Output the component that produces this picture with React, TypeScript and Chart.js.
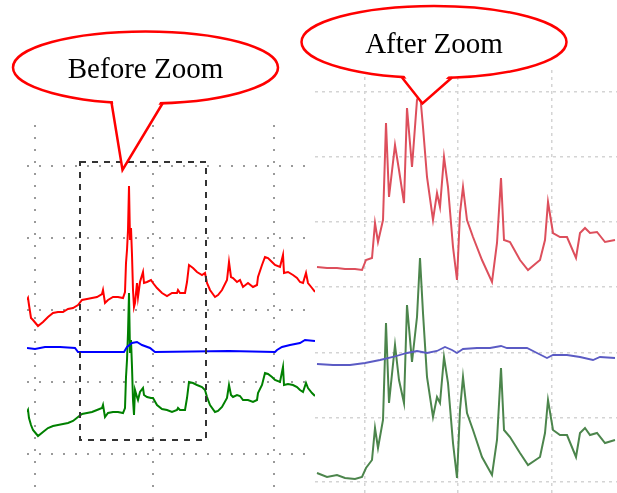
import React, { useEffect, useRef } from "react";
import { Chart, registerables } from "chart.js";
Chart.register(...registerables);

// ---------- Left panel ("Before Zoom") ----------
const leftTime = [0, 1, 2, 4, 6, 11, 16, 21, 26, 31, 36, 41, 46, 51, 55, 60, 65, 70, 75, 76, 78, 81, 86, 91, 96, 98, 99, 100, 101, 102, 103, 104, 105, 106, 107, 108, 110, 111, 113, 116, 117, 120, 124, 126, 130, 135, 140, 145, 150, 151, 153, 158, 160, 162, 166, 170, 175, 178, 180, 183, 188, 191, 195, 200, 202, 204, 206, 210, 213, 216, 221, 226, 230, 231, 235, 238, 241, 245, 248, 253, 256, 257, 261, 266, 270, 273, 276, 279, 281, 285, 288];
const leftRed = [193, 195, 188, 175, 173, 167, 171, 176, 180, 181, 181, 184, 185, 188, 193, 194, 195, 196, 199, 203, 190, 193, 196, 196, 195, 201, 230, 243, 263, 307, 253, 265, 238, 203, 186, 190, 210, 196, 211, 221, 210, 211, 213, 210, 205, 200, 197, 200, 200, 203, 200, 200, 211, 228, 225, 221, 218, 220, 210, 203, 196, 198, 203, 213, 231, 216, 215, 211, 213, 206, 210, 206, 208, 216, 228, 236, 235, 231, 228, 226, 238, 220, 221, 218, 215, 211, 210, 220, 210, 205, 201];
const leftGreen = [81, 83, 75, 68, 63, 57, 61, 65, 67, 68, 69, 70, 72, 76, 79, 80, 81, 83, 85, 88, 76, 80, 81, 81, 80, 85, 116, 133, 160, 200, 140, 153, 126, 93, 78, 103, 96, 93, 101, 105, 98, 96, 95, 95, 88, 84, 83, 81, 83, 85, 83, 83, 95, 111, 110, 108, 106, 103, 96, 88, 81, 82, 86, 95, 108, 98, 96, 98, 97, 93, 93, 91, 93, 100, 108, 120, 119, 116, 113, 111, 126, 108, 109, 108, 106, 103, 101, 110, 105, 100, 97];
const leftBlueTime = [0, 8, 18, 33, 48, 51, 97, 100, 105, 110, 115, 123, 128, 202, 248, 250, 255, 263, 273, 278, 288];
const leftBlue = [145, 144, 146, 146, 145, 141, 141, 146, 150, 151, 148, 145, 141, 142, 141, 143, 146, 148, 150, 153, 152];
const leftXGrid = [8, 126, 247];
const leftYGrid = [39, 111, 183, 255, 327];
const zoomTimeRange = [53, 179];
const zoomValueRange = [53, 331];

// ---------- Right panel ("After Zoom") ----------
const rightTime = [2, 12, 22, 30, 40, 47, 51, 57, 60, 63, 68, 71, 74, 80, 84, 89, 92, 97, 102, 105, 108, 112, 118, 122, 125, 129, 133, 138, 142, 145, 148, 152, 158, 167, 177, 182, 186, 189, 195, 205, 213, 225, 230, 233, 238, 245, 252, 261, 265, 270, 275, 282, 290, 300];
const rightRed = [226, 225, 225, 224, 224, 223, 233, 235, 270, 251, 273, 370, 296, 348, 323, 290, 385, 326, 393, 400, 366, 316, 273, 300, 286, 336, 306, 246, 213, 280, 306, 273, 256, 233, 211, 250, 315, 253, 251, 233, 223, 233, 253, 291, 260, 256, 256, 235, 260, 265, 260, 261, 251, 253];
const rightGreen = [20, 16, 18, 15, 14, 16, 25, 33, 65, 45, 73, 170, 90, 148, 113, 90, 188, 131, 176, 235, 180, 116, 76, 96, 90, 136, 110, 50, 15, 83, 116, 80, 63, 36, 18, 53, 125, 63, 56, 40, 28, 36, 60, 93, 63, 58, 58, 36, 60, 65, 58, 60, 50, 53];
const rightBlueTime = [2, 18, 35, 50, 65, 78, 92, 102, 112, 122, 130, 137, 142, 148, 162, 175, 186, 192, 212, 222, 232, 238, 252, 265, 278, 285, 300];
const rightBlue = [129, 128, 128, 130, 133, 136, 140, 142, 140, 142, 146, 143, 140, 144, 145, 145, 147, 145, 145, 140, 135, 138, 138, 136, 133, 136, 135];
const rightXGrid = [50, 143, 237];
const rightYGrid = [11, 75, 140, 206, 271, 336, 401];

const pts = (xs: number[], ys: number[]) => xs.map((x, i) => ({ x, y: ys[i] }));

const zoomBoxPlugin = {
  id: "zoomBox",
  afterDatasetsDraw(chart: any) {
    const { ctx, scales } = chart;
    const l = scales.x.getPixelForValue(zoomTimeRange[0]);
    const r = scales.x.getPixelForValue(zoomTimeRange[1]);
    const t = scales.y.getPixelForValue(zoomValueRange[1]);
    const b = scales.y.getPixelForValue(zoomValueRange[0]);
    ctx.save();
    ctx.setLineDash([6, 6]);
    ctx.lineWidth = 2;
    ctx.strokeStyle = "#333";
    ctx.strokeRect(l, t, r - l, b - t);
    ctx.restore();
  },
};

function makeScales(xMax: number, yMax: number, xGrid: number[], yGrid: number[], gridColor: string, dash: number[], gw: number) {
  const axis = (max: number, grid: number[]) => ({
    type: "linear" as const,
    min: 0,
    max,
    display: true,
    afterBuildTicks: (a: any) => {
      a.ticks = grid.map((v) => ({ value: v }));
    },
    ticks: { display: false },
    grid: { drawTicks: false, color: gridColor, lineWidth: gw },
    border: { display: false, dash },
  });
  return { x: axis(xMax, xGrid), y: axis(yMax, yGrid) };
}

function Panel({ config, style, w, h }: { config: any; style: any; w: number; h: number }) {
  const ref = useRef<HTMLCanvasElement>(null);
  useEffect(() => {
    const chart = new Chart(ref.current!, config);
    return () => chart.destroy();
  }, []);
  return <canvas ref={ref} width={w} height={h} style={{ position: "absolute", width: w, height: h, ...style }} />;
}

const lineDs = (data: any[], color: string, width: number) => ({
  data,
  borderColor: color,
  borderWidth: width,
  pointRadius: 0,
  tension: 0,
  fill: false,
  clip: false as any,
});

const baseOpts = {
  responsive: false,
  animation: false as const,
  devicePixelRatio: 1,
  layout: { padding: 0 },
  plugins: { legend: { display: false }, tooltip: { enabled: false } },
};

const leftConfig = {
  type: "line",
  data: {
    datasets: [
      lineDs(pts(leftTime, leftRed), "#ff0000", 2),
      lineDs(pts(leftBlueTime, leftBlue), "#0000ff", 2),
      lineDs(pts(leftTime, leftGreen), "#008000", 2),
    ],
  },
  options: { ...baseOpts, scales: makeScales(288, 368, leftXGrid, leftYGrid, "#9a9a9a", [2, 10], 2) },
  plugins: [zoomBoxPlugin],
};

const rightConfig = {
  type: "line",
  data: {
    datasets: [
      lineDs(pts(rightTime, rightRed), "#dd4f5c", 2),
      lineDs(pts(rightBlueTime, rightBlue), "#5b5bc4", 1.8),
      lineDs(pts(rightTime, rightGreen), "#4c854c", 2),
    ],
  },
  options: { ...baseOpts, scales: makeScales(302, 423, rightXGrid, rightYGrid, "#d4d4d4", [3, 4], 1.5) },
};

function Bubble({ cx, cy, rx, ry, tail, text, ty }: any) {
  const [a, tip, b] = tail;
  return (
    <g>
      <ellipse cx={cx} cy={cy} rx={rx} ry={ry} fill="#fff" stroke="#ff0000" strokeWidth={2.5} />
      <polygon points={`${a[0] + 1},${a[1] - 4} ${tip[0]},${tip[1]} ${b[0] - 1},${b[1] - 4}`} fill="#fff" stroke="none" />
      <polyline points={`${a[0]},${a[1]} ${tip[0]},${tip[1]} ${b[0]},${b[1]}`} fill="none" stroke="#ff0000" strokeWidth={2.5} strokeLinejoin="miter" />
      <text x={cx} y={ty} textAnchor="middle" fontFamily="'Liberation Serif', 'Times New Roman', serif" fontSize={29} fill="#000">
        {text}
      </text>
    </g>
  );
}

export default function App() {
  return (
    <div style={{ position: "absolute", left: 0, top: 0, width: 617, height: 493, background: "#fff", overflow: "hidden" }}>
      <Panel config={leftConfig} w={288} h={368} style={{ left: 27, top: 125 }} />
      <Panel config={rightConfig} w={302} h={423} style={{ left: 315, top: 70 }} />
      <svg width={617} height={493} style={{ position: "absolute", left: 0, top: 0 }}>
        <Bubble cx={145.5} cy={67.5} rx={132.5} ry={36} tail={[[111.5, 102.5], [122.5, 170], [162.5, 103.5]]} text="Before Zoom" ty={78} />
        <Bubble cx={434} cy={42} rx={132.5} ry={36} tail={[[402, 77.5], [422.5, 103.5], [452, 77.5]]} text="After Zoom" ty={52.5} />
      </svg>
    </div>
  );
}
